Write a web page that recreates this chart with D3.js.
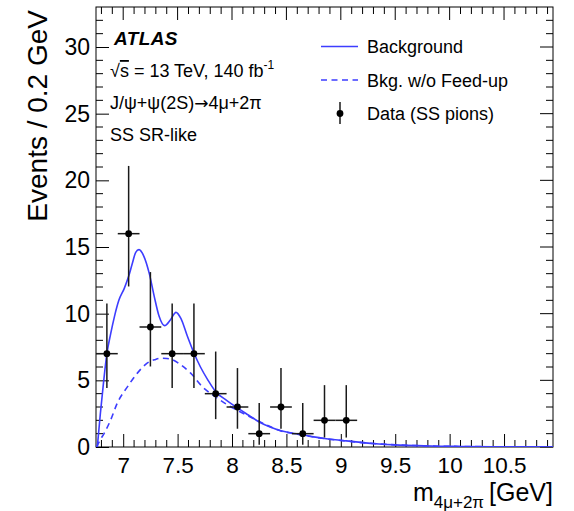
<!DOCTYPE html>
<html>
<head>
<meta charset="utf-8">
<script src="https://cdn.jsdelivr.net/npm/d3@7"></script>
<style>
  html, body { margin: 0; padding: 0; background: #fff; }
  svg { display: block; font-family: "Liberation Sans", Arial, Helvetica, sans-serif; }
</style>
</head>
<body>
<svg id="chart" width="574" height="511"></svg>
<script>
// Data: same-sign pion events per 0.2 GeV bin
const binCenters = [6.85, 7.05, 7.25, 7.45, 7.65, 7.85, 8.05, 8.25, 8.45, 8.65, 8.85, 9.05];
const counts     = [7, 16, 9, 7, 7, 4, 3, 1, 3, 1, 2, 2];
const errLow     = [2.58, 3.96, 2.96, 2.58, 2.58, 1.91, 1.63, 0.83, 1.63, 0.83, 1.29, 1.29];
const errHigh    = [3.77, 5.08, 4.12, 3.77, 3.77, 3.16, 2.92, 2.30, 2.92, 2.30, 2.64, 2.64];
const binHalfWidth = 0.1;

// Background model (with feed-up)
const bkgX = [6.762, 6.79, 6.82, 6.85, 6.885, 6.92, 6.96, 7.01, 7.05, 7.085, 7.115, 7.145, 7.19, 7.24,
              7.285, 7.33, 7.38, 7.435, 7.485, 7.53, 7.59, 7.65, 7.71, 7.78, 7.85, 7.95, 8.05, 8.15,
              8.25, 8.35, 8.45, 8.55, 8.65, 8.75, 8.85, 8.95, 9.05, 9.2, 9.35, 9.5, 9.7, 9.9, 10.1,
              10.4, 10.7, 10.95];
const bkgY = [0, 2.5, 4.9, 7.0, 8.5, 9.8, 11.0, 11.9, 12.8, 13.8, 14.6, 14.8, 14.3, 13.0,
              11.3, 9.8, 9.1, 9.55, 10.1, 9.65, 8.3, 7.05, 6.0, 5.0, 4.15, 3.5, 2.93, 2.4,
              1.88, 1.5, 1.22, 1.05, 0.9, 0.76, 0.64, 0.54, 0.46, 0.33, 0.23, 0.16, 0.1, 0.06, 0.04,
              0.02, 0.01, 0.005];

// Background model without feed-up
const noFeedX = [6.755, 6.79, 6.825, 6.885, 6.945, 7.04, 7.13, 7.22, 7.29, 7.345, 7.4, 7.44, 7.53,
                 7.62, 7.73, 7.85, 7.95, 8.05, 8.2, 8.3, 8.45, 8.55, 8.65, 8.75, 8.85, 8.95, 9.05,
                 9.2, 9.35, 9.5, 9.7, 9.9, 10.1, 10.4, 10.7, 10.95];
const noFeedY = [0, 0.55, 1.03, 2.03, 3.28, 4.53, 5.54, 6.29, 6.55, 6.66, 6.64, 6.58, 6.16,
                 5.54, 4.5, 3.75, 3.2, 2.75, 2.12, 1.72, 1.2, 1.03, 0.89, 0.75, 0.63, 0.53, 0.45,
                 0.33, 0.23, 0.16, 0.1, 0.06, 0.04, 0.02, 0.01, 0.005];

// Axes
const xDomain = [6.75, 10.95];
const yDomain = [0, 33];
const xMajorTicks = [7, 7.5, 8, 8.5, 9, 9.5, 10, 10.5];
const xTickLabels = ["7", "7.5", "8", "8.5", "9", "9.5", "10", "10.5"];
const yMajorTicks = [0, 5, 10, 15, 20, 25, 30];
const yTickLabels = ["0", "5", "10", "15", "20", "25", "30"];

const svg = d3.select("#chart");
const W = 574, H = 511;
const m = { left: 96, right: 21, top: 7, bottom: 64 };
const pw = W - m.left - m.right, ph = H - m.top - m.bottom;

const x = d3.scaleLinear().domain(xDomain).range([m.left, m.left + pw]);
const y = d3.scaleLinear().domain(yDomain).range([m.top + ph, m.top]);

const blue = "#3d3dff";
const labelFont = "Liberation Sans, Arial, sans-serif";

svg.append("defs").append("clipPath").attr("id", "plot")
  .append("rect").attr("x", m.left).attr("y", m.top).attr("width", pw).attr("height", ph);

// Ticks on all four sides
const xMinor = d3.range(6.8, 10.95, 0.1).map(v => +v.toFixed(2))
  .filter(v => !xMajorTicks.some(t => Math.abs(t - v) < 1e-6));
const yMinor = d3.range(1, 33, 1).filter(v => v % 5 !== 0);
const bigTick = 13, smallTick = 7;

const axisBottom = d3.axisBottom(x).tickValues(xMajorTicks)
  .tickFormat((d, i) => xTickLabels[i]).tickSizeInner(-bigTick).tickSizeOuter(0).tickPadding(10);
const gx = svg.append("g").attr("transform", `translate(0,${m.top + ph})`).call(axisBottom);
gx.select(".domain").remove();
gx.selectAll("text").attr("font-size", 22.5).attr("fill", "#000").attr("font-family", labelFont);
gx.selectAll("line").attr("stroke", "#000");

const axisLeft = d3.axisLeft(y).tickValues(yMajorTicks)
  .tickFormat((d, i) => yTickLabels[i]).tickSizeInner(-bigTick).tickSizeOuter(0).tickPadding(6);
const gy = svg.append("g").attr("transform", `translate(${m.left},0)`).call(axisLeft);
gy.select(".domain").remove();
gy.selectAll("text").attr("font-size", 23).attr("fill", "#000").attr("font-family", labelFont);
gy.selectAll("line").attr("stroke", "#000");

const tickG = svg.append("g").attr("stroke", "#000").attr("stroke-width", 1);
// minor x ticks (bottom + top), major top ticks
xMinor.forEach(v => {
  tickG.append("line").attr("x1", x(v)).attr("x2", x(v)).attr("y1", m.top + ph).attr("y2", m.top + ph - smallTick);
  tickG.append("line").attr("x1", x(v)).attr("x2", x(v)).attr("y1", m.top).attr("y2", m.top + smallTick);
});
xMajorTicks.forEach(v => {
  tickG.append("line").attr("x1", x(v)).attr("x2", x(v)).attr("y1", m.top).attr("y2", m.top + bigTick);
});
yMinor.forEach(v => {
  tickG.append("line").attr("x1", m.left).attr("x2", m.left + smallTick).attr("y1", y(v)).attr("y2", y(v));
  tickG.append("line").attr("x1", m.left + pw).attr("x2", m.left + pw - smallTick).attr("y1", y(v)).attr("y2", y(v));
});
yMajorTicks.forEach(v => {
  tickG.append("line").attr("x1", m.left + pw).attr("x2", m.left + pw - bigTick).attr("y1", y(v)).attr("y2", y(v));
});

// Frame
svg.append("rect").attr("x", m.left).attr("y", m.top).attr("width", pw).attr("height", ph)
  .attr("fill", "none").attr("stroke", "#000").attr("stroke-width", 1);

// Curves
const line = d3.line().x(d => x(d[0])).y(d => y(d[1])).curve(d3.curveMonotoneX);
const curves = svg.append("g").attr("clip-path", "url(#plot)");
curves.append("path").datum(d3.zip(noFeedX, noFeedY)).attr("d", line)
  .attr("fill", "none").attr("stroke", blue).attr("stroke-width", 1.6).attr("stroke-dasharray", "6,4.5");
curves.append("path").datum(d3.zip(bkgX, bkgY)).attr("d", line)
  .attr("fill", "none").attr("stroke", blue).attr("stroke-width", 1.6);

// Data points with error bars
const pts = svg.append("g").attr("clip-path", "url(#plot)");
binCenters.forEach((c, i) => {
  const g = pts.append("g").attr("stroke", "#1a1a1a").attr("stroke-width", 1.5);
  g.append("line").attr("x1", x(c)).attr("x2", x(c))
    .attr("y1", y(counts[i] - errLow[i])).attr("y2", y(counts[i] + errHigh[i]));
  g.append("line").attr("x1", x(c - binHalfWidth)).attr("x2", x(c + binHalfWidth))
    .attr("y1", y(counts[i])).attr("y2", y(counts[i]));
  pts.append("circle").attr("cx", x(c)).attr("cy", y(counts[i])).attr("r", 3.4).attr("fill", "#000");
});

// Axis titles
svg.append("text").attr("transform", `translate(47,${m.top + 3}) rotate(-90)`)
  .attr("text-anchor", "end").attr("font-size", 28).text("Events / 0.2 GeV");

const xt = svg.append("text").attr("x", m.left + pw).attr("y", 501).attr("text-anchor", "end").attr("font-size", 25);
xt.append("tspan").text("m");
xt.append("tspan").attr("font-size", 17).attr("dy", 7).text("4μ+2π");
xt.append("tspan").attr("dy", -7).attr("dx", 5).text("[GeV]");

// Labels, top left
const lab = svg.append("g").attr("font-size", 18).attr("fill", "#000");
lab.append("text").attr("x", 114).attr("y", 45).attr("font-size", 19).attr("letter-spacing", 0.4)
  .attr("font-weight", "bold").attr("font-style", "italic").text("ATLAS");
const s2 = lab.append("text").attr("x", 110).attr("y", 77);
s2.append("tspan").text("√");
s2.append("tspan").attr("text-decoration", "overline").text("s");
s2.append("tspan").text(" = 13 TeV, 140 fb");
s2.append("tspan").attr("font-size", 12).attr("dy", -8).text("-1");
const s3 = lab.append("text").attr("x", 110).attr("y", 109);
s3.append("tspan").text("J/ψ+ψ(2S)");
s3.append("tspan").attr("font-family", "DejaVu Sans").attr("font-size", 17).text("→");
s3.append("tspan").text("4μ+2π");
lab.append("text").attr("x", 110).attr("y", 141).text("SS SR-like");

// Legend
const leg = svg.append("g").attr("font-size", 18);
leg.append("line").attr("x1", 321).attr("x2", 358).attr("y1", 46.5).attr("y2", 46.5)
  .attr("stroke", blue).attr("stroke-width", 1.6);
leg.append("text").attr("x", 367).attr("y", 53).text("Background");
leg.append("line").attr("x1", 321).attr("x2", 358).attr("y1", 80).attr("y2", 80)
  .attr("stroke", blue).attr("stroke-width", 1.6).attr("stroke-dasharray", "6,4.5");
leg.append("text").attr("x", 367).attr("y", 86.5).text("Bkg. w/o Feed-up");
leg.append("line").attr("x1", 340).attr("x2", 340).attr("y1", 102).attr("y2", 124)
  .attr("stroke", "#1a1a1a").attr("stroke-width", 1.5);
leg.append("circle").attr("cx", 340).attr("cy", 113.5).attr("r", 3.4).attr("fill", "#000");
leg.append("text").attr("x", 367).attr("y", 120).text("Data (SS pions)");
</script>
</body>
</html>
